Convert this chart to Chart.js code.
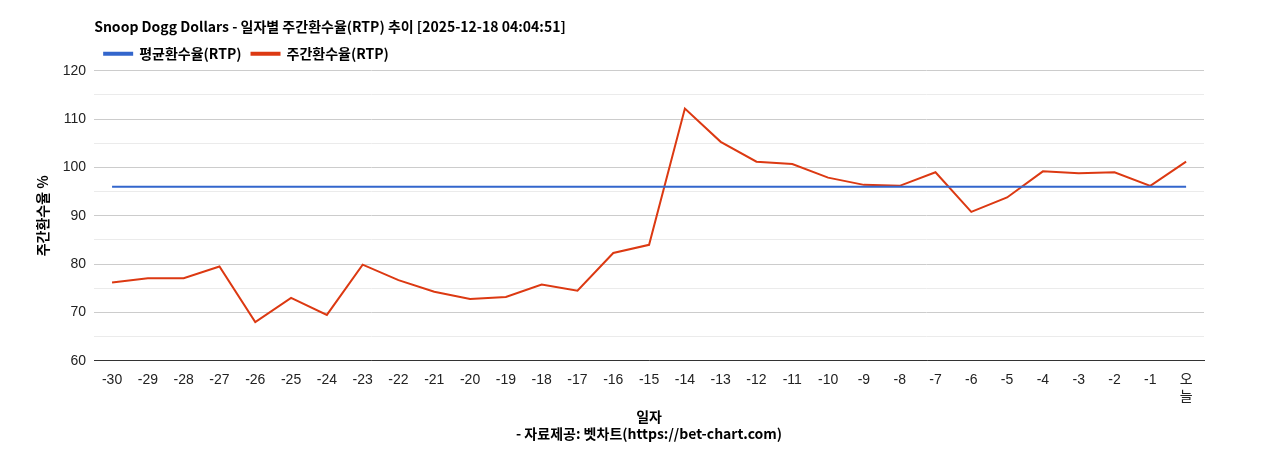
<!DOCTYPE html>
<html><head><meta charset="utf-8">
<script src="https://cdn.jsdelivr.net/npm/chart.js@4"></script>
<style>body{margin:0;background:#fff}#wrap{width:1268px;height:450px}</style>
</head><body><div id="wrap"><canvas id="c"></canvas></div>
<script>
var days = ['-30','-29','-28','-27','-26','-25','-24','-23','-22','-21','-20','-19','-18','-17','-16','-15','-14','-13','-12','-11','-10','-9','-8','-7','-6','-5','-4','-3','-2','-1',['오','늘']];
var weekly = [76.2,77.1,77.1,79.5,68.0,73.0,69.5,79.9,76.7,74.3,72.8,73.2,75.8,74.5,82.3,84.0,112.2,105.3,101.2,100.7,97.9,96.4,96.2,99.0,90.8,93.8,99.2,98.8,99.0,96.2,101.2];
var avgValue = 96.0;
var average = days.map(function(){ return avgValue; });

Chart.defaults.font.family = '"Liberation Sans", Arial, "Noto Sans CJK KR", sans-serif';
Chart.defaults.color = '#222';

new Chart(document.getElementById('c'), {
    type: 'line',
    data: {
        labels: days,
        datasets: [{
            label: '평균환수율(RTP)',
            data: average,
            borderColor: '#3366cc',
            backgroundColor: '#3366cc',
            borderWidth: 2,
            pointRadius: 0
        }, {
            label: '주간환수율(RTP)',
            data: weekly,
            borderColor: '#dc3912',
            backgroundColor: '#dc3912',
            borderWidth: 2,
            pointRadius: 0
        }]
    },
    options: {
        responsive: true,
        maintainAspectRatio: false,
        animation: false,
        layout: { padding: { left: 30, right: 64, top: 18, bottom: 4 } },
        plugins: {
            title: {
                display: true, align: 'start', fullSize: false,
                text: 'Snoop Dogg Dollars - 일자별 주간환수율(RTP) 추이 [2025-12-18 04:04:51]',
                font: { size: 14, weight: 'bold', family: '"Noto Sans CJK KR", sans-serif' },
                color: '#000', padding: { top: 0, bottom: 2 }
            },
            legend: {
                align: 'start', fullSize: false,
                labels: {
                    boxWidth: 28, boxHeight: 2, color: '#000', padding: 10,
                    font: { size: 14, weight: 'bold', family: '"Noto Sans CJK KR", sans-serif' }
                }
            },
            tooltip: { enabled: false }
        },
        scales: {
            x: {
                offset: true,
                grid: { display: false },
                border: { color: '#333' },
                ticks: { font: { size: 14 }, color: '#222', maxRotation: 0, autoSkip: false },
                title: {
                    display: true,
                    text: ['일자', '- 자료제공: 벳차트(https://bet-chart.com)'],
                    font: { size: 14, weight: 'bold', family: '"Noto Sans CJK KR", sans-serif' },
                    color: '#000', padding: { top: 0 }
                }
            },
            y: {
                min: 60, max: 120,
                ticks: {
                    stepSize: 5, font: { size: 14 }, color: '#222', padding: 8,
                    callback: function(v){ return v % 10 === 0 ? v : ''; }
                },
                grid: {
                    color: function(ctx){ return ctx.tick && ctx.tick.value % 10 === 0 ? '#cccccc' : '#ebebeb'; },
                    drawTicks: false
                },
                border: { display: false },
                title: {
                    display: true, text: '주간환수율 %',
                    font: { size: 14, weight: 'bold', family: '"Noto Sans CJK KR", sans-serif' },
                    color: '#000'
                }
            }
        }
    }
});
</script></body></html>
